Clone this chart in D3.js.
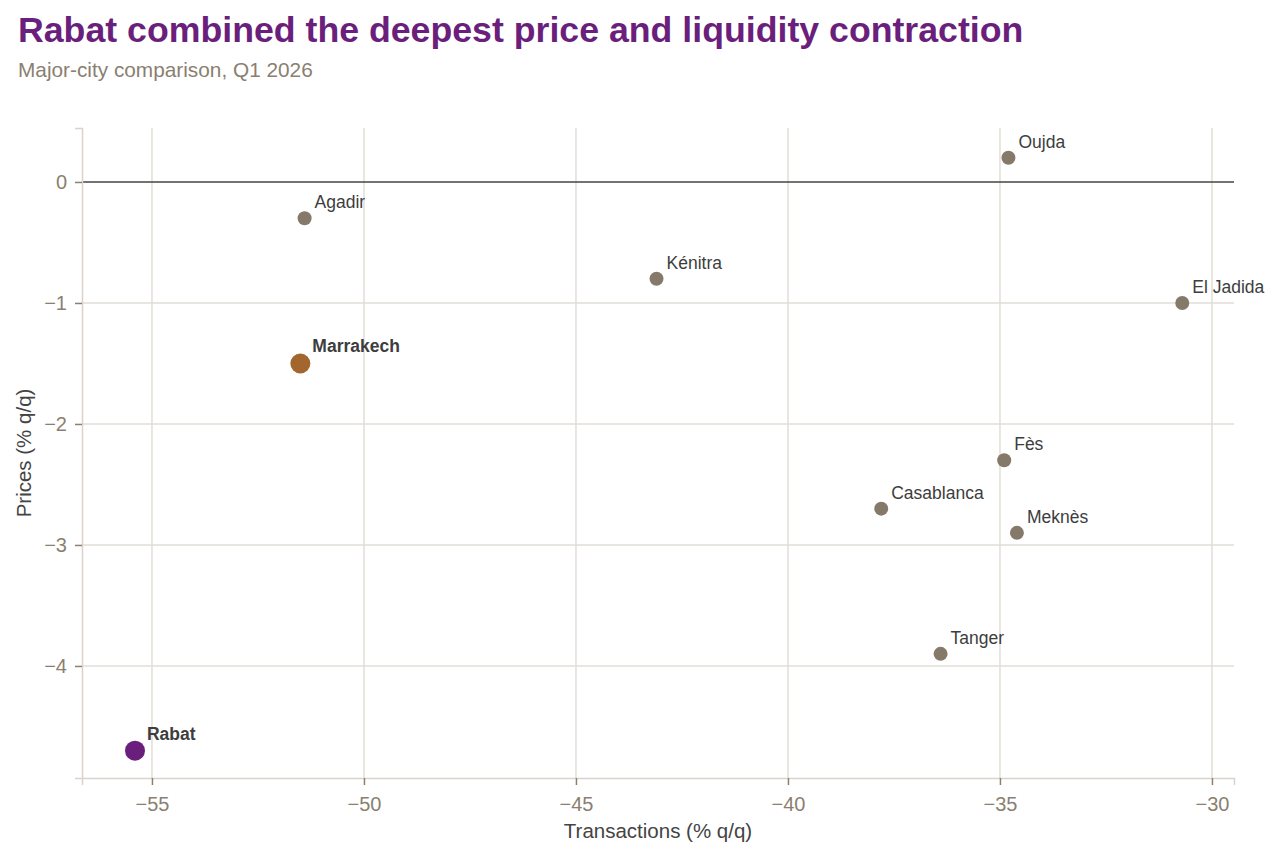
<!DOCTYPE html>
<html>
<head>
<meta charset="utf-8">
<script src="https://cdn.jsdelivr.net/npm/d3@7"></script>
<style>
  body { margin: 0; background: #fff; }
  svg { display: block; font-family: "Liberation Sans", Arial, sans-serif; }
</style>
</head>
<body>
<svg id="chart" width="1280" height="858"></svg>
<script>
const cities = ["Oujda", "Agadir", "Kénitra", "El Jadida", "Marrakech", "Fès", "Casablanca", "Meknès", "Tanger", "Rabat"];
const transactions = [-34.8, -51.4, -43.1, -30.7, -51.5, -34.9, -37.8, -34.6, -36.4, -55.4];
const prices = [0.2, -0.3, -0.8, -1.0, -1.5, -2.3, -2.7, -2.9, -3.9, -4.7];
const highlights = { "Rabat": "#6b1f7c", "Marrakech": "#a3662f" };
const xTicks = [-55, -50, -45, -40, -35, -30];
const yTicks = [0, -1, -2, -3, -4];

const svg = d3.select("#chart");
const margin = { top: 128, right: 46, bottom: 80, left: 82 };
const width = 1280, height = 858;

const x = d3.scaleLinear().domain([-56.65, -29.48]).range([margin.left, width - margin.right]);
const y = d3.scaleLinear().domain([-4.926, 0.446]).range([height - margin.bottom, margin.top]);

const data = cities.map((c, i) => ({ city: c, tx: transactions[i], pr: prices[i] }));

// Title
svg.append("text").attr("x", 18).attr("y", 42)
  .attr("font-size", 35.7).attr("font-weight", "bold").attr("fill", "#6b1f7c")
  .text("Rabat combined the deepest price and liquidity contraction");
svg.append("text").attr("x", 18).attr("y", 77)
  .attr("font-size", 20.8).attr("fill", "#8a7f70")
  .text("Major-city comparison, Q1 2026");

// Gridlines
const grid = svg.append("g");
grid.selectAll("line.vx").data(xTicks).enter().append("line")
  .attr("x1", d => x(d)).attr("x2", d => x(d))
  .attr("y1", margin.top).attr("y2", height - margin.bottom)
  .attr("stroke", "#e2ddd7").attr("stroke-width", 1.5);
grid.selectAll("line.hy").data(yTicks.filter(d => d !== 0)).enter().append("line")
  .attr("x1", margin.left).attr("x2", width - margin.right)
  .attr("y1", d => y(d)).attr("y2", d => y(d))
  .attr("stroke", "#e2ddd7").attr("stroke-width", 1.5);

// Zero line
svg.append("line")
  .attr("x1", margin.left).attr("x2", width - margin.right)
  .attr("y1", y(0)).attr("y2", y(0))
  .attr("stroke", "#444").attr("stroke-width", 1.5);

// Axes
const fmt = d => d < 0 ? "\u2212" + Math.abs(d) : String(d);
const xAxis = svg.append("g")
  .attr("transform", `translate(0,${height - margin.bottom})`)
  .call(d3.axisBottom(x).tickValues(xTicks).tickSize(7).tickPadding(12).tickFormat(fmt));
const yAxis = svg.append("g")
  .attr("transform", `translate(${margin.left},0)`)
  .call(d3.axisLeft(y).tickValues(yTicks).tickSize(7).tickPadding(8).tickFormat(fmt));
[xAxis, yAxis].forEach(a => {
  a.select(".domain").attr("stroke", "#d9d3cc").attr("stroke-width", 1.5);
  a.selectAll(".tick line").attr("stroke", "#8a7f70").attr("stroke-width", 1.5);
  a.selectAll(".tick text").attr("fill", "#8a7f70").attr("font-size", 20)
    .attr("font-family", "Liberation Sans, Arial, sans-serif");
});

// Axis titles
svg.append("text").attr("x", (margin.left + width - margin.right) / 2).attr("y", 838)
  .attr("text-anchor", "middle").attr("font-size", 20.5).attr("fill", "#444")
  .text("Transactions (% q/q)");
svg.append("text")
  .attr("transform", `translate(31,${(margin.top + height - margin.bottom) / 2}) rotate(-90)`)
  .attr("text-anchor", "middle").attr("font-size", 20.5).attr("fill", "#444")
  .text("Prices (% q/q)");

// Points
const pts = svg.append("g");
pts.selectAll("circle").data(data).enter().append("circle")
  .attr("cx", d => x(d.tx)).attr("cy", d => y(d.pr))
  .attr("r", d => highlights[d.city] ? 10 : 7)
  .attr("fill", d => highlights[d.city] || "#857a6a");

pts.selectAll("text").data(data).enter().append("text")
  .attr("x", d => x(d.tx) + (highlights[d.city] ? 12 : 10))
  .attr("y", d => y(d.pr) - (highlights[d.city] ? 11 : 10))
  .attr("font-size", 17.5)
  .attr("font-weight", d => highlights[d.city] ? "bold" : "normal")
  .attr("fill", "#3d3d3d")
  .text(d => d.city);
</script>
</body>
</html>
